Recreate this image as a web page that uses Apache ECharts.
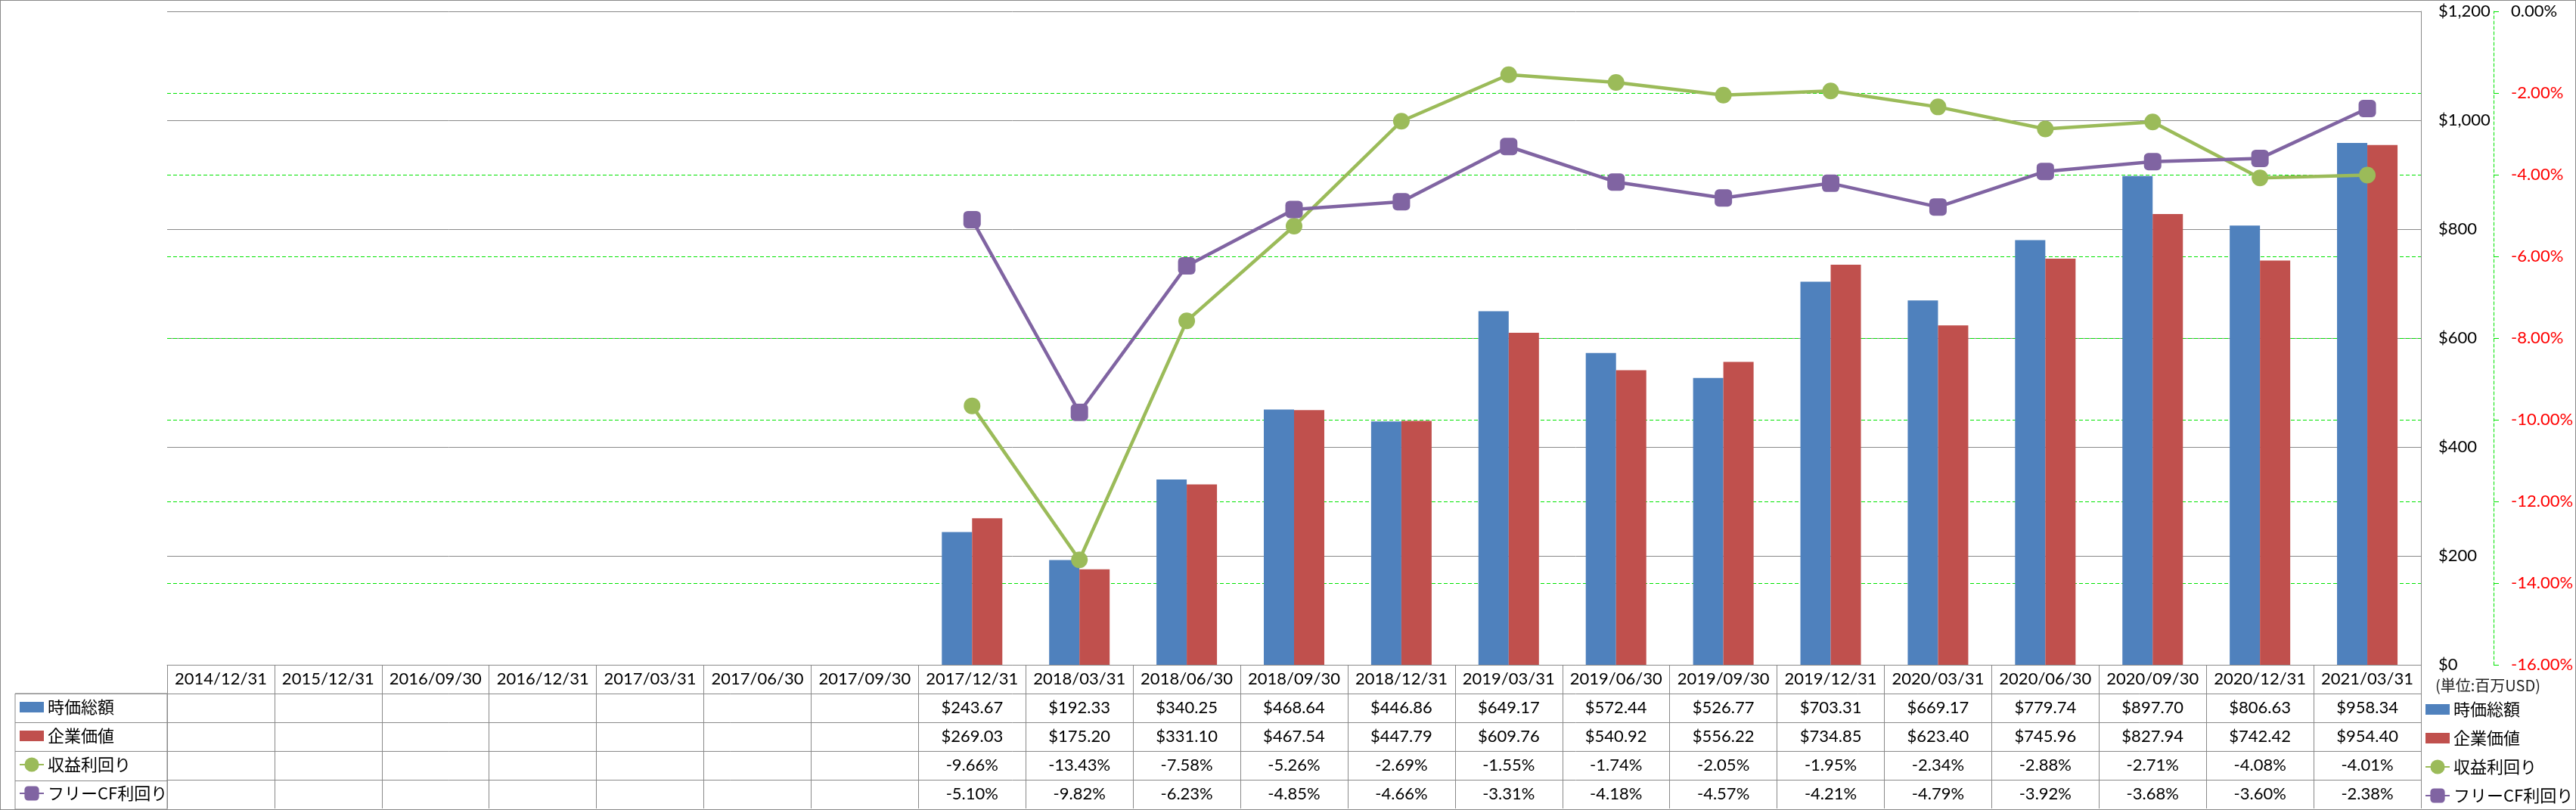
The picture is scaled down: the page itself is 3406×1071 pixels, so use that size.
<!DOCTYPE html>
<html><head><meta charset="utf-8">
<script src="https://cdn.jsdelivr.net/npm/echarts@6/dist/echarts.min.js"></script>
<style>
html,body{margin:0;padding:0;background:#fff;overflow:hidden}
#c{position:absolute;left:0;top:0;width:3406px;height:1071px}
#frame{position:absolute;left:0;top:0;width:3406px;height:1071px;box-sizing:border-box;border:1px solid #898989;pointer-events:none}
</style></head>
<body><div id="c"></div><div id="frame"></div>
<script>
const categories = ['2014/12/31','2015/12/31','2016/09/30','2016/12/31','2017/03/31','2017/06/30','2017/09/30','2017/12/31','2018/03/31','2018/06/30','2018/09/30','2018/12/31','2019/03/31','2019/06/30','2019/09/30','2019/12/31','2020/03/31','2020/06/30','2020/09/30','2020/12/31','2021/03/31'];
const marketCap = [null,null,null,null,null,null,null,243.67,192.33,340.25,468.64,446.86,649.17,572.44,526.77,703.31,669.17,779.74,897.70,806.63,958.34];
const enterpriseValue = [null,null,null,null,null,null,null,269.03,175.20,331.10,467.54,447.79,609.76,540.92,556.22,734.85,623.40,745.96,827.94,742.42,954.40];
const earningsYield = [null,null,null,null,null,null,null,-9.66,-13.43,-7.58,-5.26,-2.69,-1.55,-1.74,-2.05,-1.95,-2.34,-2.88,-2.71,-4.08,-4.01];
const fcfYield = [null,null,null,null,null,null,null,-5.10,-9.82,-6.23,-4.85,-4.66,-3.31,-4.18,-4.57,-4.21,-4.79,-3.92,-3.68,-3.60,-2.38];
const seriesNames = ['時価総額','企業価値','収益利回り','フリーCF利回り'];
const unitLabel = '(単位:百万USD)';

const GRAY = '#898989';
const GREEN_GRID = '#00E400';
const NUM_FONT = 'Lato';
const CJK_FONT = '"Noto Sans CJK JP"';
const ROW_H = 38;

const money = v => v == null ? '' : '$' + v.toFixed(2);
const pct = v => v == null ? '' : v.toFixed(2) + '%';
const rowFormatters = [
  (val) => val,
  (val, i) => money(marketCap[i]),
  (val, i) => money(enterpriseValue[i]),
  (val, i) => pct(earningsYield[i]),
  (val, i) => pct(fcfYield[i])
];

function tableAxis(k) {
  return {
    type: 'category', gridIndex: 0, position: 'bottom', offset: ROW_H * k,
    data: categories, boundaryGap: true,
    axisLine: { show: true, onZero: false, lineStyle: { color: GRAY, width: 1 } },
    axisTick: { show: true, interval: 0, length: ROW_H, lineStyle: { color: GRAY, width: 1 } },
    axisLabel: { show: true, interval: 0, margin: 8, fontFamily: NUM_FONT, fontSize: 22, lineHeight: 22, color: '#000', formatter: rowFormatters[k], hideOverlap: false },
    splitLine: { show: false }
  };
}

const barIcon = 'path://M0,0M0,5H32V19H0ZM32,24';
const legendData = [
  { name: seriesNames[0], icon: barIcon },
  { name: seriesNames[1], icon: barIcon },
  { name: seriesNames[2] },
  { name: seriesNames[3] }
];
function makeLegend(left, top) {
  return {
    orient: 'vertical', left: left, top: top, padding: 0,
    itemWidth: 32, itemHeight: 24, itemGap: 14, selectedMode: false,
    data: legendData,
    textStyle: { fontFamily: CJK_FONT, fontSize: 22, lineHeight: 24, color: '#000', padding: [0,0,0,0] }
  };
}

const chart = echarts.init(document.getElementById('c'), null, { renderer: 'canvas' });
chart.setOption({
  animation: false,
  backgroundColor: '#fff',
  title: {
    text: unitLabel, left: 3220, top: 896, padding: 0,
    textStyle: { fontFamily: CJK_FONT, fontSize: 20, fontWeight: 'normal', color: '#222' }
  },
  legend: [ makeLegend(25, 923), makeLegend(3206, 926) ],
  grid: [
    { left: 221, right: 205, top: 15, bottom: 192, containLabel: false },
    { left: 20, top: 917, width: 201, height: 153, show: true, borderColor: GRAY, borderWidth: 1, backgroundColor: 'transparent' }
  ],
  xAxis: [
    tableAxis(0), tableAxis(1), tableAxis(2), tableAxis(3), tableAxis(4),
    { type: 'value', gridIndex: 1, show: false }
  ],
  yAxis: [
    {
      type: 'value', gridIndex: 0, position: 'right', min: 0, max: 1200, interval: 200,
      axisLine: { show: true, lineStyle: { color: GRAY, width: 1 } },
      axisTick: { show: false },
      axisLabel: { margin: 23, fontFamily: NUM_FONT, fontSize: 22, color: '#000',
        formatter: v => '$' + v.toLocaleString('en-US') },
      splitLine: { show: true, lineStyle: { color: GRAY, width: 1 } }
    },
    {
      type: 'value', gridIndex: 0, position: 'right', offset: 96, min: -16, max: 0, interval: 2,
      axisLine: { show: true, lineStyle: { color: GREEN_GRID, width: 1, type: [4, 3] } },
      axisTick: { show: true, length: 7, lineStyle: { color: GREEN_GRID, width: 1 } },
      axisLabel: { margin: 23, fontFamily: NUM_FONT, fontSize: 22,
        color: v => (Number(v) < 0 ? '#FF0000' : '#000'),
        formatter: v => v.toFixed(2) + '%' },
      splitLine: { show: true, showMinLine: false, showMaxLine: false, lineStyle: { color: GREEN_GRID, width: 1, type: [5, 3] } }
    },
    {
      type: 'category', gridIndex: 1, data: seriesNames, inverse: true,
      axisLine: { show: false }, axisTick: { show: false }, axisLabel: { show: false },
      splitLine: { show: true, interval: 0, lineStyle: { color: GRAY, width: 1 } }
    }
  ],
  series: [
    { name: seriesNames[0], type: 'bar', xAxisIndex: 0, yAxisIndex: 0, data: marketCap,
      barWidth: 40, barGap: '0%', itemStyle: { color: '#4F81BD' } },
    { name: seriesNames[1], type: 'bar', xAxisIndex: 0, yAxisIndex: 0, data: enterpriseValue,
      barWidth: 40, barGap: '0%', itemStyle: { color: '#C0504D' } },
    { name: seriesNames[2], type: 'line', xAxisIndex: 0, yAxisIndex: 1, data: earningsYield,
      symbol: 'circle', symbolSize: 22, showAllSymbol: true, z: 3,
      lineStyle: { color: '#9BBB59', width: 4.5 }, itemStyle: { color: '#9BBB59' } },
    { name: seriesNames[3], type: 'line', xAxisIndex: 0, yAxisIndex: 1, data: fcfYield,
      symbol: 'roundRect', symbolSize: 23, showAllSymbol: true, z: 4,
      lineStyle: { color: '#8064A2', width: 4.5 }, itemStyle: { color: '#8064A2' } }
  ]
});
</script>
</body></html>
